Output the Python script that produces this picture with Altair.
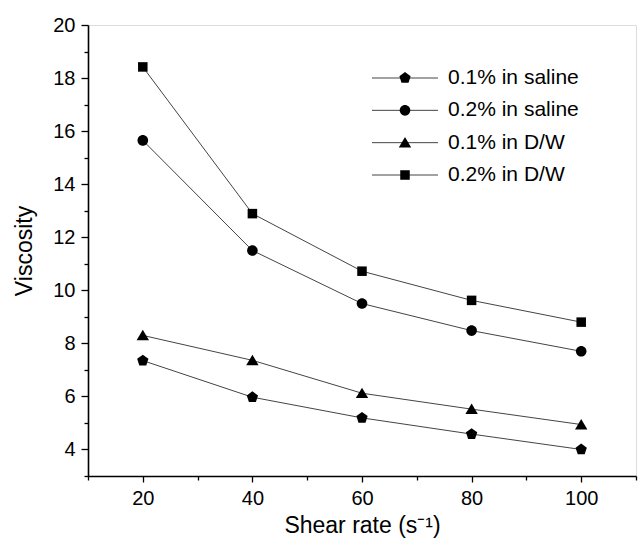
import altair as alt
import pandas as pd

shear = [20, 40, 60, 80, 100]
series_names = ["0.1% in saline", "0.2% in saline", "0.1% in D/W", "0.2% in D/W"]
saline_01 = [7.35, 5.97, 5.19, 4.58, 4.00]
saline_02 = [15.65, 11.50, 9.50, 8.48, 7.70]
dw_01 = [8.30, 7.36, 6.12, 5.52, 4.94]
dw_02 = [18.42, 12.89, 10.72, 9.62, 8.80]
y_ticks = list(range(3, 21))
x_ticks = list(range(10, 111, 10))

values = [saline_01, saline_02, dw_01, dw_02]
rows = []
for name, vals in zip(series_names, values):
    for s, v in zip(shear, vals):
        rows.append({"series": name, "shear": s, "visc": v})
df = pd.DataFrame(rows)
leg_df = pd.DataFrame({"series": series_names})

FONT = "Liberation Sans"
# marker outlines in normalized symbol units
pentagon = "M0,-1.12L1.065,-0.346L0.659,0.906L-0.659,0.906L-1.065,-0.346Z"
circle = "M1,0A1,1 0 1,1 -1,0A1,1 0 1,1 1,0Z"
triangle = "M0,-1.05L1.17,0.92L-1.17,0.92Z"
square = "M-0.9,-0.9L0.9,-0.9L0.9,0.9L-0.9,0.9Z"
shape_scale = alt.Scale(domain=series_names, range=[pentagon, circle, triangle, square])

x_enc = alt.X("shear:Q", scale=alt.Scale(domain=[10, 110], nice=False, zero=False),
              axis=alt.Axis(values=x_ticks, title="Shear rate (s⁻¹)", grid=False,
                            labelExpr="datum.value % 20 == 0 ? datum.label : ''",
                            tickSize={"condition": {"test": "datum.value % 20 != 0", "value": 4}, "value": 6},
                            labelPadding=6, titlePadding=6))
y_enc = alt.Y("visc:Q", scale=alt.Scale(domain=[3, 20], nice=False, zero=False),
              axis=alt.Axis(values=y_ticks, title="Viscosity", grid=False,
                            labelExpr="datum.value % 2 == 0 ? datum.label : ''",
                            tickSize={"condition": {"test": "datum.value % 2 != 0", "value": 4}, "value": 7},
                            labelPadding=6, titlePadding=16))

lines = alt.Chart(df).mark_line(color="#444444", strokeWidth=1).encode(
    x=x_enc, y=y_enc, detail="series:N")
points = alt.Chart(df).mark_point(filled=True, color="black", opacity=1, size=112).encode(
    x=x_enc, y=y_enc,
    shape=alt.Shape("series:N", scale=shape_scale, legend=None))
main = alt.layer(lines, points)

ly = alt.Y("series:N", sort=series_names,
           scale=alt.Scale(type="point", range=[53, 150], padding=0), axis=None)
leg_lines = alt.Chart(leg_df).mark_rule(color="#444444", strokeWidth=1).encode(
    x=alt.value(284), x2=alt.value(350), y=ly)
leg_pts = alt.Chart(leg_df).mark_point(filled=True, color="black", opacity=1, size=112).encode(
    x=alt.value(317), y=ly,
    shape=alt.Shape("series:N", scale=shape_scale, legend=None))
leg_text = alt.Chart(leg_df).mark_text(align="left", baseline="middle", fontSize=21,
                                      font=FONT, color="black").encode(
    x=alt.value(360), y=ly, text="series:N")
legend = alt.layer(leg_lines, leg_pts, leg_text)

chart = alt.layer(main, legend).resolve_scale(y="independent").properties(
    width=548, height=451,
    autosize=alt.AutoSizeParams(type="none"),
    padding={"left": 88, "top": 25, "right": 2, "bottom": 64},
).configure_view(stroke=None).configure(background="white").configure_axis(
    labelFontSize=20, titleFontSize=23, domainWidth=1.6, tickWidth=1.3,
    domainColor="black", tickColor="black", labelColor="black", titleColor="black",
    labelFont=FONT, titleFont=FONT, titleFontWeight="normal")

chart.save("out.html", embed_options={"renderer": "svg", "actions": False})
